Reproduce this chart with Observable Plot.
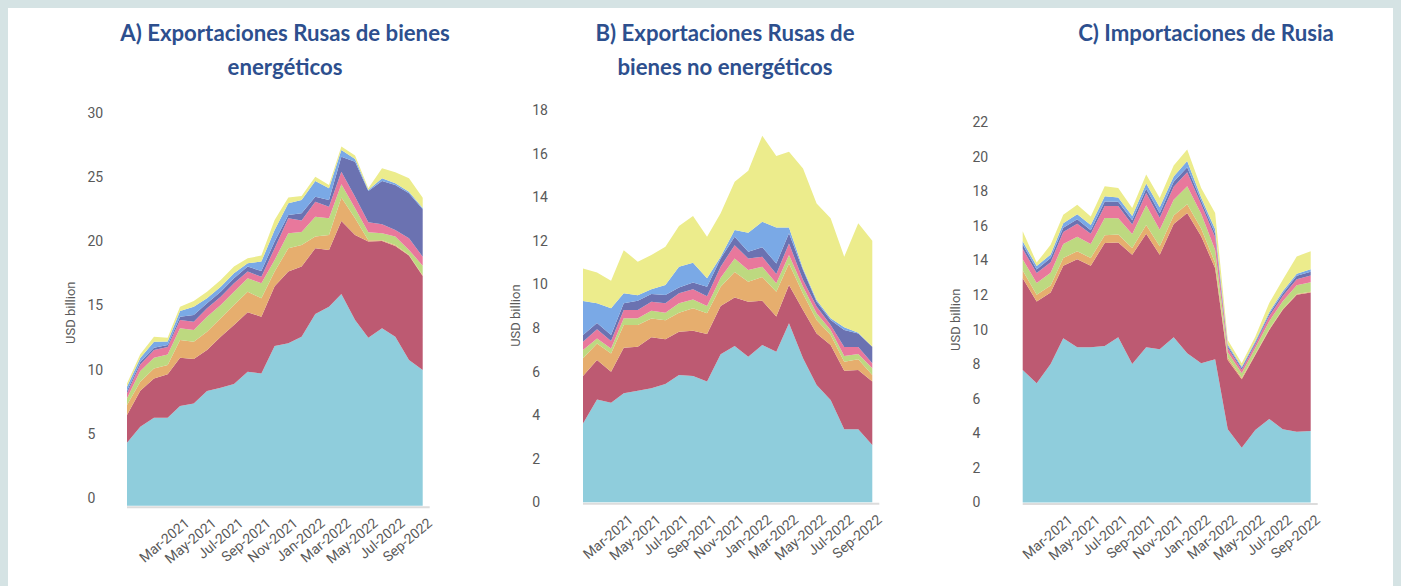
<!DOCTYPE html>
<html>
<head>
<meta charset="utf-8">
<script src="https://cdn.jsdelivr.net/npm/d3@7"></script>
<script src="https://cdn.jsdelivr.net/npm/@observablehq/plot@0.6"></script>
<style>
html, body { margin: 0; padding: 0; }
body { width: 1401px; height: 586px; overflow: hidden; background: #d5e3e4; position: relative; font-family: Roboto, sans-serif; }
#card { position: absolute; left: 8px; top: 8px; width: 1385px; height: 578px; background: #ffffff; }
.title { position: absolute; font-family: Lato, "Open Sans", sans-serif; font-weight: 700; font-size: 22.2px; line-height: 34px; color: #2d4f8e; text-align: center; white-space: nowrap; }
.panel { position: absolute; top: 90px; }
.panel svg { max-width: none; background: transparent; }
</style>
</head>
<body>
<div id="card"></div>
<div class="title" style="left:85px;width:400px;top:16px">A) Exportaciones Rusas de bienes<br>energéticos</div>
<div class="title" style="left:525px;width:400px;top:16px">B) Exportaciones Rusas de<br>bienes no energéticos</div>
<div class="title" style="left:1006px;width:400px;top:16px">C) Importaciones de Rusia</div>
<div class="panel" id="pA" style="left:40px;width:400px"></div>
<div class="panel" id="pB" style="left:490px;width:400px"></div>
<div class="panel" id="pC" style="left:930px;width:400px"></div>
<script>
// ---- series (bottom to top) ----
const seriesNames = ["Categoría 1", "Categoría 2", "Categoría 3", "Categoría 4", "Categoría 5", "Categoría 6", "Categoría 7", "Categoría 8"];
const seriesColors = ["#8fcddc", "#bd5a72", "#e6ae6e", "#bdd980", "#e8789c", "#6b72b1", "#7aa9e6", "#ecec8c"];

// ---- months ----
const monthsA = ["2020-11","2020-12","2021-01","2021-02","2021-03","2021-04","2021-05","2021-06","2021-07","2021-08","2021-09","2021-10","2021-11","2021-12","2022-01","2022-02","2022-03","2022-04","2022-05","2022-06","2022-07","2022-08","2022-09"];
const monthsBC = ["2020-12","2021-01","2021-02","2021-03","2021-04","2021-05","2021-06","2021-07","2021-08","2021-09","2021-10","2021-11","2021-12","2022-01","2022-02","2022-03","2022-04","2022-05","2022-06","2022-07","2022-08","2022-09"];

// ---- tick labels ----
const xTickLabels = ["Mar-2021","May-2021","Jul-2021","Sep-2021","Nov-2021","Jan-2022","Mar-2022","May-2022","Jul-2022","Sep-2022"];
const yTicksA = [0, 5, 10, 15, 20, 25, 30];
const yTicksB = [0, 2, 4, 6, 8, 10, 12, 14, 16, 18];
const yTicksC = [0, 2, 4, 6, 8, 10, 12, 14, 16, 18, 20, 22];
const yAxisLabel = "USD billion";

// ---- A) Exportaciones Rusas de bienes energéticos (USD billion) ----
const aS1 = [4.91,6.16,6.86,6.86,7.77,7.97,8.94,9.19,9.48,10.44,10.31,12.44,12.65,13.17,14.94,15.51,16.50,14.47,13.09,13.82,13.17,11.35,10.57];
const aS2 = [2.16,2.79,3.06,3.38,3.76,3.46,3.19,3.98,4.60,4.63,4.42,4.66,5.59,5.46,5.12,4.42,5.69,6.63,7.49,6.81,7.07,8.14,7.33];
const aS3 = [0.78,0.71,0.78,0.72,1.38,1.35,1.43,1.43,1.56,1.61,1.43,1.14,1.82,1.69,0.91,1.17,1.82,1.29,0.10,0.05,0.08,0.05,0.05];
const aS4 = [0.52,0.84,0.83,0.83,0.91,0.91,1.17,1.04,1.04,1.04,1.17,0.91,1.17,1.00,1.55,1.29,1.03,0.78,0.62,0.55,0.65,0.39,0.75];
const aS5 = [0.39,0.50,0.60,0.58,0.65,0.65,0.65,0.65,0.65,0.52,0.52,0.91,1.16,0.90,1.17,0.91,0.99,0.91,0.78,0.70,0.52,0.91,0.70];
const aS6 = [0.18,0.20,0.18,0.15,0.26,0.52,0.39,0.39,0.39,0.39,0.44,0.52,0.26,0.56,0.39,0.52,1.17,2.73,2.44,3.37,3.50,3.50,3.70];
const aS7 = [0.33,0.30,0.47,0.28,0.44,0.65,0.39,0.39,0.39,0.26,0.73,0.91,0.91,1.04,1.22,0.91,0.52,0.21,0.08,0.21,0.13,0.13,0.10];
const aS8 = [0.26,0.30,0.39,0.28,0.34,0.44,0.52,0.52,0.52,0.39,0.47,0.77,0.45,0.32,0.34,0.26,0.26,0.26,0.13,0.78,0.86,1.04,0.80];

// ---- B) Exportaciones Rusas de bienes no energéticos ----
const bS1 = [3.62,4.72,4.57,5.00,5.12,5.23,5.43,5.84,5.80,5.54,6.79,7.17,6.68,7.22,6.91,8.21,6.61,5.38,4.69,3.35,3.35,2.63];
const bS2 = [2.18,1.81,1.42,2.09,2.02,2.34,2.05,1.99,2.07,2.18,2.22,2.23,2.52,2.03,1.61,1.76,2.21,2.37,2.53,2.69,2.72,2.91];
const bS3 = [0.81,0.76,0.84,1.04,0.99,0.86,0.87,0.87,1.03,0.95,0.88,1.17,0.92,1.09,1.14,0.99,0.75,0.62,0.46,0.41,0.49,0.30];
const bS4 = [0.38,0.23,0.23,0.31,0.31,0.36,0.35,0.43,0.41,0.34,0.41,0.62,0.54,0.47,0.39,0.39,0.32,0.30,0.23,0.26,0.24,0.31];
const bS5 = [0.38,0.42,0.34,0.38,0.38,0.41,0.43,0.46,0.46,0.45,0.51,0.61,0.53,0.46,0.42,0.53,0.31,0.31,0.23,0.42,0.33,0.23];
const bS6 = [0.31,0.29,0.28,0.31,0.43,0.36,0.38,0.27,0.31,0.43,0.38,0.39,0.31,0.43,0.49,0.46,0.46,0.22,0.23,0.78,0.62,0.76];
const bS7 = [1.56,0.90,1.22,0.46,0.25,0.21,0.46,0.95,0.91,0.39,0.08,0.30,0.87,1.17,1.65,0.27,0.07,0.08,0.07,0.12,0.03,0.00];
const bS8 = [1.49,1.41,1.27,1.98,1.54,1.58,1.76,1.87,2.15,1.91,1.99,2.22,2.84,3.95,3.28,3.48,4.59,4.43,4.59,3.24,5.02,4.86];

// ---- C) Importaciones de Rusia ----
const cS1 = [7.66,6.89,8.01,9.50,8.98,8.98,9.05,9.56,8.01,8.98,8.86,9.56,8.63,8.05,8.28,4.23,3.17,4.19,4.83,4.23,4.09,4.13];
const cS2 = [5.31,4.73,4.13,4.19,5.09,4.71,5.95,5.48,6.31,6.56,5.46,6.54,8.11,7.34,5.27,4.01,3.95,4.34,5.15,6.91,7.92,8.01];
const cS3 = [0.45,0.39,0.40,0.45,0.45,0.45,0.45,0.45,0.40,0.50,0.50,0.50,0.50,0.45,0.30,0.15,0.10,0.05,0.05,0.05,0.05,0.05];
const cS4 = [0.65,0.68,0.75,0.80,0.85,0.80,1.00,0.95,0.80,1.15,0.95,0.90,1.05,0.85,0.75,0.30,0.25,0.35,0.45,0.45,0.50,0.55];
const cS5 = [0.60,0.58,0.60,0.70,0.75,0.60,0.70,0.70,0.55,0.70,0.70,0.75,0.80,0.55,0.75,0.25,0.20,0.20,0.30,0.30,0.35,0.38];
const cS6 = [0.25,0.20,0.25,0.25,0.25,0.20,0.25,0.25,0.25,0.25,0.25,0.30,0.30,0.20,0.20,0.10,0.10,0.10,0.12,0.15,0.20,0.22];
const cS7 = [0.18,0.20,0.20,0.25,0.30,0.30,0.30,0.25,0.25,0.30,0.35,0.30,0.35,0.20,0.25,0.10,0.08,0.10,0.10,0.12,0.12,0.15];
const cS8 = [0.58,0.20,0.56,0.50,0.55,0.50,0.58,0.55,0.46,0.52,0.54,0.63,0.67,0.55,0.94,0.26,0.20,0.26,0.53,0.67,1.00,1.03];

const parseMonth = d3.utcParse("%Y-%m");
const parseTick = d3.utcParse("%b-%Y");
const xTickDates = xTickLabels.map(parseTick);

function buildRows(months, cols) {
  const rows = [];
  months.forEach((m, i) => {
    const date = parseMonth(m);
    cols.forEach((arr, k) => rows.push({date, series: seriesNames[k], value: arr[i]}));
  });
  return rows;
}

function makePanel(cfg) {
  const rows = buildRows(cfg.months, cfg.cols);
  const d0 = parseMonth(cfg.months[0]);
  const d1 = parseMonth(cfg.months[cfg.months.length - 1]);
  return Plot.plot({
    width: 400,
    height: 496,
    marginLeft: cfg.mL,
    marginRight: cfg.mR,
    marginTop: cfg.mT,
    marginBottom: cfg.mB,
    style: {fontFamily: "Roboto, sans-serif", fontSize: "14px", color: "#595959", background: "transparent", overflow: "visible"},
    x: {type: "utc", domain: [d0, d1]},
    y: {domain: [0, cfg.yTicks[cfg.yTicks.length - 1]]},
    color: {domain: seriesNames, range: seriesColors},
    marks: [
      Plot.ruleY([0], {stroke: "#dcdcdc", strokeWidth: 2, dy: 1, insetRight: -7}),
      Plot.areaY(rows, {x: "date", y: "value", fill: "series", order: seriesNames}),
      Plot.axisY({ticks: cfg.yTicks, tickSize: 0, tickPadding: 0, textAnchor: "start", dx: cfg.yLabDx, dy: cfg.yLabDy, label: null, fontSize: 14}),
      Plot.axisX({ticks: xTickDates, tickFormat: d3.utcFormat("%b-%Y"), tickRotate: -40, tickSize: 0, tickPadding: 15, dx: 7, label: null, fontSize: 14}),
      Plot.text([yAxisLabel], {text: d => d, frameAnchor: "left", textAnchor: "middle", lineAnchor: "middle", rotate: -90, dx: cfg.titleDx, dy: cfg.titleDy, fontSize: 13})
    ]
  });
}

document.getElementById("pA").append(makePanel({
  months: monthsA, cols: [aS1, aS2, aS3, aS4, aS5, aS6, aS7, aS8], yTicks: yTicksA,
  mL: 87, mR: 17.3, mT: 30.7, mB: 80.3, yLabDx: -40, yLabDy: -7.7, titleDx: -57, titleDy: -1
}));
document.getElementById("pB").append(makePanel({
  months: monthsBC, cols: [bS1, bS2, bS3, bS4, bS5, bS6, bS7, bS8], yTicks: yTicksB,
  mL: 93, mR: 17.7, mT: 20, mB: 83.7, yLabDx: -51.3, yLabDy: 0, titleDx: -68, titleDy: 9
}));
document.getElementById("pC").append(makePanel({
  months: monthsBC, cols: [cS1, cS2, cS3, cS4, cS5, cS6, cS7, cS8], yTicks: yTicksC,
  mL: 92.7, mR: 19.3, mT: 32, mB: 83.5, yLabDx: -50.7, yLabDy: 0, titleDx: -67.7, titleDy: 7
}));
</script>
</body>
</html>
